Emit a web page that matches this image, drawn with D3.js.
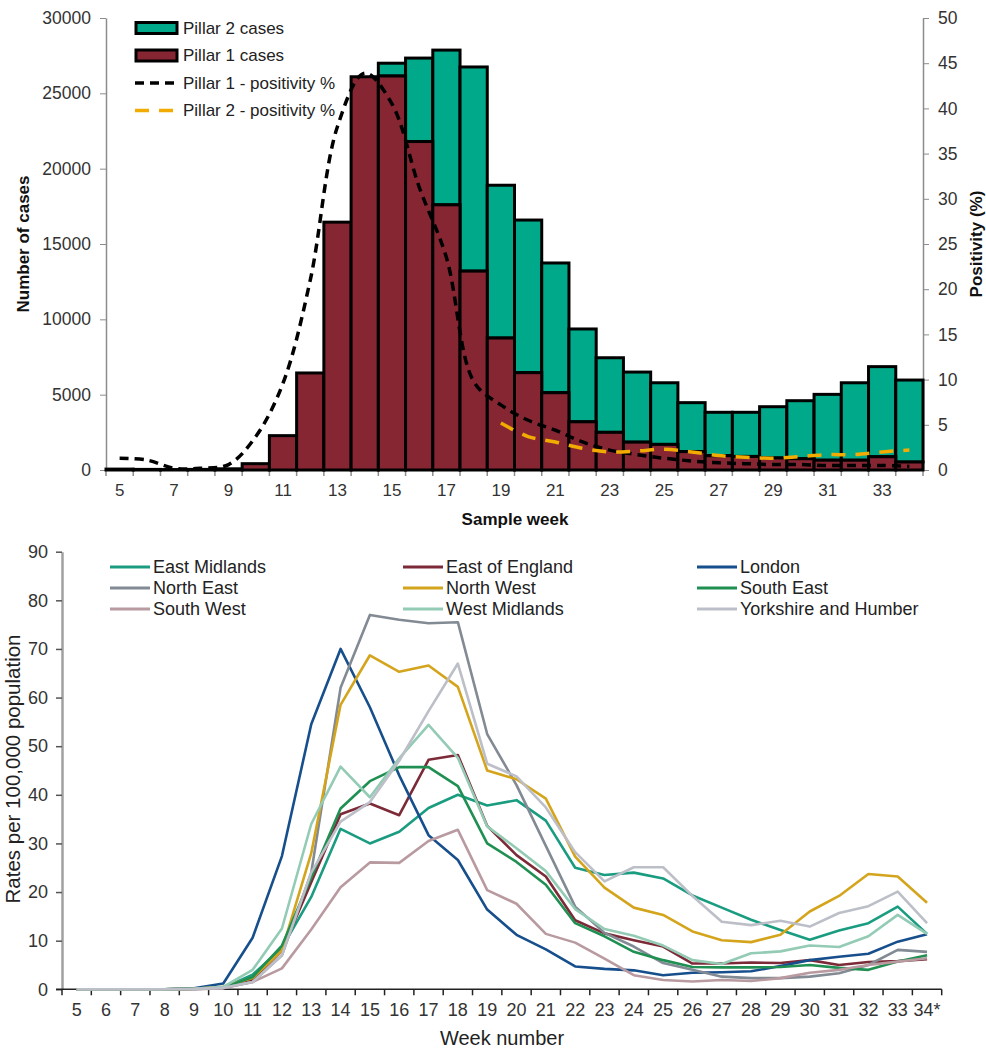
<!DOCTYPE html>
<html>
<head>
<meta charset="utf-8">
<script src="https://cdn.jsdelivr.net/npm/d3@7"></script>
<style>
  body { margin: 0; background: #fff; }
  svg { display: block; font-family: "Liberation Sans", Arial, sans-serif; }
  .axis text { fill: #333; }
</style>
</head>
<body>
<svg id="chart" width="986" height="1048"></svg>
<script>
// ---- top chart data ----
const sampleWeeks = d3.range(5, 35);
const pillar1Cases = [60, 40, 30, 40, 80, 420, 2280, 6440, 16450, 26100, 26150, 21800, 17600, 13200,
  8760, 6460, 5130, 3200, 2500, 1850, 1700, 1220, 950, 900, 800, 750, 650, 650, 880, 530];
const pillar2Cases = [0, 0, 0, 0, 0, 0, 0, 0, 0, 0, 850, 5540, 10270, 13550,
  10140, 10130, 8610, 6160, 4950, 4650, 4090, 3250, 2880, 2930, 3400, 3850, 4370, 5140, 5980, 5440];
const pillar1Positivity = [1.3, 1.1, 0.2, 0.2, 0.6, 3.7, 9.6, 21, 38, 43.9, 40.5, 31.3, 23.5, 9.8,
  7.2, 5.5, 4.4, 3.1, 2.2, 1.7, 1.3, 1.0, 0.8, 0.7, 0.6, 0.6, 0.5, 0.5, 0.5, 0.4];
const pillar2Positivity = [null, null, null, null, null, null, null, null, null, null, null, null, null, null,
  5.2, 3.7, 3.1, 2.4, 2.0, 2.1, 2.3, 2.0, 1.6, 1.4, 1.3, 1.5, 1.7, 1.7, 2.0, 2.2];
const sampleWeekLabels = d3.range(5, 35, 2);
const caseTicks = d3.range(0, 30001, 5000);
const positivityTicks = d3.range(0, 51, 5);

// ---- bottom chart data ----
const weekNumbers = d3.range(5, 35);
const weekLabels = weekNumbers.map(w => w === 34 ? "34*" : String(w));
const regions = ["East Midlands", "East of England", "London", "North East", "North West",
  "South East", "South West", "West Midlands", "Yorkshire and Humber"];
const regionColors = ["#1a9c80", "#7d2a38", "#174f8c", "#828a94", "#d4a51c",
  "#1f8f52", "#b89aa0", "#93cbb5", "#bcbfc8"];
const eastMidlands = [0, 0, 0, 0, 0.1, 0.3, 3, 8.5, 19, 33, 30, 32.4, 37.3, 40, 37.8, 38.9, 34.7,
  25, 23.5, 24, 22.8, 19.3, 16.8, 14.3, 12.2, 10.2, 12.1, 13.6, 17, 11.4];
const eastOfEngland = [0, 0, 0, 0, 0.1, 0.3, 2, 8, 22, 36, 38.2, 35.8, 47.2, 48.2, 33.6, 27.6, 23.2,
  14.2, 11.5, 10.1, 8.8, 5.3, 5.3, 5.5, 5.4, 6, 5, 5.6, 5.8, 6.2];
const london = [0, 0, 0, 0, 0.2, 1.2, 10.6, 27.4, 54.5, 70, 58, 44, 31.7, 26.6, 16.4, 11.2, 8.2,
  4.7, 4.2, 3.9, 2.9, 3.4, 3.5, 3.7, 4.8, 6, 6.7, 7.3, 9.8, 11.3];
const northEast = [0, 0, 0, 0, 0, 0.3, 1.5, 7, 24, 62, 77, 76, 75.3, 75.5, 52.5, 42, 29.5,
  17, 11.6, 8.8, 5.4, 4, 2.6, 2.3, 2.3, 2.6, 3.3, 5, 8.1, 7.7];
const northWest = [0, 0, 0, 0, 0.1, 0.5, 2.3, 8, 28, 58.5, 68.7, 65.3, 66.6, 62.2, 45, 43.2, 39.2,
  27.3, 20.9, 16.8, 15.3, 11.9, 10.1, 9.7, 11.2, 16, 19.2, 23.7, 23.2, 17.8];
const southEast = [0, 0, 0, 0, 0.1, 0.3, 2.5, 9, 23, 37.2, 42.8, 45.7, 45.7, 41.8, 30, 26.2, 21.5,
  13.6, 10.9, 7.7, 6, 4.6, 4.5, 4.5, 4.6, 5, 4.4, 4, 5.7, 7];
const southWest = [0, 0, 0, 0, 0, 0.2, 1.5, 4.3, 12.3, 21, 26.1, 26, 30.5, 32.8, 20.4, 17.6, 11.4,
  9.6, 6.3, 2.9, 1.9, 1.6, 1.9, 1.7, 2.3, 3.4, 4, 5, 5.7, 6.4];
const westMidlands = [0, 0, 0, 0, 0.1, 0.5, 4, 12.5, 34, 45.8, 39.5, 47.5, 54.4, 47.6, 33.5, 29, 24.3,
  16.5, 12.4, 11, 9, 6, 5.2, 7.4, 7.8, 9, 8.7, 10.9, 15.3, 11.4];
const yorkshire = [0, 0, 0, 0, 0.1, 0.3, 1.5, 7, 24, 34.5, 38.5, 47, 57.2, 67, 46.4, 43.8, 37.4,
  28.2, 22.2, 25.1, 25.1, 19.2, 13.9, 13.2, 14.1, 12.9, 15.7, 17.1, 20.1, 13.6];
const regionValues = [eastMidlands, eastOfEngland, london, northEast, northWest,
  southEast, southWest, westMidlands, yorkshire];
const rateTicks = d3.range(0, 91, 10);

const svg = d3.select("#chart");

// ================= top chart =================
const topBox = { left: 106, right: 923, top: 18, bottom: 470 };
const xTop = d3.scaleBand().domain(sampleWeeks).range([topBox.left, topBox.right]).paddingInner(0);
const yCases = d3.scaleLinear().domain([0, 30000]).range([topBox.bottom, topBox.top]);
const yPos = d3.scaleLinear().domain([0, 50]).range([topBox.bottom, topBox.top]);

const gTop = svg.append("g");

// left axis
const leftAxis = gTop.append("g")
  .attr("class", "axis")
  .attr("transform", `translate(${topBox.left},0)`)
  .call(d3.axisLeft(yCases).tickValues(caseTicks).tickFormat(d3.format("d"))
    .tickSize(6).tickPadding(9).tickSizeOuter(0));
leftAxis.selectAll("text").style("font-size", "17.5px");

// right axis
const rightAxis = gTop.append("g")
  .attr("class", "axis")
  .attr("transform", `translate(${topBox.right},0)`)
  .call(d3.axisRight(yPos).tickValues(positivityTicks).tickSize(6).tickPadding(9).tickSizeOuter(0));
rightAxis.selectAll("text").style("font-size", "17.5px");

[leftAxis, rightAxis].forEach(a => {
  a.select(".domain").attr("stroke", "#8c8c8c").attr("stroke-width", 1.5);
  a.selectAll(".tick line").attr("stroke", "#8c8c8c");
});

// bottom axis labels
const bottomAxis = gTop.append("g")
  .attr("class", "axis")
  .attr("transform", `translate(0,${topBox.bottom})`)
  .call(d3.axisBottom(xTop).tickValues(sampleWeekLabels).tickSize(0).tickPadding(14));
bottomAxis.select(".domain").remove();
bottomAxis.selectAll("text").style("font-size", "17px");

gTop.append("line")
  .attr("x1", topBox.left).attr("x2", topBox.right)
  .attr("y1", topBox.bottom).attr("y2", topBox.bottom)
  .attr("stroke", "#8c8c8c").attr("stroke-width", 1.5);
gTop.selectAll(".xtick")
  .data(sampleWeeks.map(w => xTop(w)).concat([topBox.right]))
  .join("line")
  .attr("x1", d => d).attr("x2", d => d)
  .attr("y1", topBox.bottom).attr("y2", topBox.bottom + 6)
  .attr("stroke", "#8c8c8c").attr("stroke-width", 1.5);

// stacked bars
const barData = sampleWeeks.map((w, i) => ({ week: w, p1: pillar1Cases[i], p2: pillar2Cases[i] }));
const stack = d3.stack().keys(["p1", "p2"])(barData);
const barColors = { p1: "#862633", p2: "#00a98a" };

gTop.append("g").selectAll("rect")
  .data(stack[1].filter(d => d.data.p2 > 0))
  .join("rect")
  .attr("x", d => xTop(d.data.week))
  .attr("width", xTop.bandwidth())
  .attr("y", d => yCases(d[1]))
  .attr("height", d => yCases(d[0]) - yCases(d[1]))
  .attr("fill", barColors.p2)
  .attr("stroke", "#000").attr("stroke-width", 3);

gTop.append("g").selectAll("rect")
  .data(stack[0])
  .join("rect")
  .attr("x", d => xTop(d.data.week))
  .attr("width", xTop.bandwidth())
  .attr("y", d => yCases(d[1]))
  .attr("height", d => yCases(d[0]) - yCases(d[1]))
  .attr("fill", barColors.p1)
  .attr("stroke", "#000").attr("stroke-width", 3);

// positivity lines
const posLine = d3.line()
  .defined(d => d.v != null)
  .x(d => xTop(d.week) + xTop.bandwidth() / 2)
  .y(d => yPos(d.v))
  .curve(d3.curveCatmullRom.alpha(0.5));

gTop.append("path")
  .datum(sampleWeeks.map((w, i) => ({ week: w, v: pillar1Positivity[i] })))
  .attr("d", posLine)
  .attr("fill", "none")
  .attr("stroke", "#000").attr("stroke-width", 3.5)
  .attr("stroke-dasharray", "9,6");

gTop.append("path")
  .datum(sampleWeeks.map((w, i) => ({ week: w, v: pillar2Positivity[i] })).filter(d => d.v != null))
  .attr("d", posLine)
  .attr("fill", "none")
  .attr("stroke", "#f2ab00").attr("stroke-width", 3.5)
  .attr("stroke-dasharray", "14,10");

// axis titles
gTop.append("text")
  .attr("transform", "translate(29,244) rotate(-90)")
  .attr("text-anchor", "middle")
  .style("font-size", "17px").style("font-weight", "bold").attr("fill", "#111")
  .text("Number of cases");
gTop.append("text")
  .attr("transform", "translate(982,244) rotate(-90)")
  .attr("text-anchor", "middle")
  .style("font-size", "17px").style("font-weight", "bold").attr("fill", "#111")
  .text("Positivity (%)");
gTop.append("text")
  .attr("x", 515).attr("y", 525)
  .attr("text-anchor", "middle")
  .style("font-size", "17px").style("font-weight", "bold").attr("fill", "#111")
  .text("Sample week");

// legend
const topLegend = [
  { label: "Pillar 2 cases", type: "rect", color: barColors.p2 },
  { label: "Pillar 1 cases", type: "rect", color: barColors.p1 },
  { label: "Pillar 1 - positivity %", type: "line", color: "#000", dash: "9,6" },
  { label: "Pillar 2 - positivity %", type: "line", color: "#f2ab00", dash: "14,10" }
];
const lg = gTop.append("g").attr("transform", "translate(135,28)");
topLegend.forEach((d, i) => {
  const row = lg.append("g").attr("transform", `translate(0,${i * 27.5})`);
  if (d.type === "rect") {
    row.append("rect").attr("x", 1).attr("y", -5.5).attr("width", 41).attr("height", 11)
      .attr("fill", d.color).attr("stroke", "#000").attr("stroke-width", 3);
  } else {
    row.append("line").attr("x1", 0).attr("x2", 43).attr("y1", 0).attr("y2", 0)
      .attr("stroke", d.color).attr("stroke-width", 3.5).attr("stroke-dasharray", d.dash);
  }
  row.append("text").attr("x", 48).attr("y", 0).attr("dy", "0.35em")
    .style("font-size", "17px").attr("fill", "#222").text(d.label);
});

// ================= bottom chart =================
const botBox = { left: 62, right: 941.7, top: 551.7, bottom: 989.3 };
const xBot = d3.scaleBand().domain(weekNumbers).range([botBox.left, botBox.right]).paddingInner(0);
const yRate = d3.scaleLinear().domain([0, 90]).range([botBox.bottom, botBox.top]);
const gBot = svg.append("g");

const yAxisB = gBot.append("g")
  .attr("class", "axis")
  .attr("transform", `translate(${botBox.left},0)`)
  .call(d3.axisLeft(yRate).tickValues(rateTicks).tickSize(6).tickPadding(8).tickSizeOuter(0));
yAxisB.select(".domain").attr("stroke", "#a0a0a0").attr("stroke-width", 2.5);
yAxisB.selectAll(".tick line").attr("stroke", "#555").attr("stroke-width", 1.5);
yAxisB.selectAll("text").style("font-size", "18px");

const xAxisB = gBot.append("g")
  .attr("class", "axis")
  .attr("transform", `translate(0,${botBox.bottom})`)
  .call(d3.axisBottom(xBot).tickFormat((d, i) => weekLabels[i]).tickSize(0).tickPadding(14));
xAxisB.select(".domain").remove();
xAxisB.selectAll("text").style("font-size", "18px");

gBot.append("line")
  .attr("x1", botBox.left - 6).attr("x2", botBox.right)
  .attr("y1", botBox.bottom).attr("y2", botBox.bottom)
  .attr("stroke", "#222").attr("stroke-width", 1.5);
gBot.selectAll(".xtickb")
  .data(weekNumbers.map(w => xBot(w)).concat([botBox.right]))
  .join("line")
  .attr("x1", d => d).attr("x2", d => d)
  .attr("y1", botBox.bottom).attr("y2", botBox.bottom + 6)
  .attr("stroke", "#222").attr("stroke-width", 1.5);

const rateLine = d3.line()
  .x(d => xBot(d.week) + xBot.bandwidth() / 2)
  .y(d => yRate(d.v));

regions.forEach((r, k) => {
  gBot.append("path")
    .datum(weekNumbers.map((w, i) => ({ week: w, v: regionValues[k][i] })))
    .attr("d", rateLine)
    .attr("fill", "none")
    .attr("stroke", regionColors[k])
    .attr("stroke-width", 2.6)
    .attr("stroke-linejoin", "round");
});

gBot.append("text")
  .attr("x", 502).attr("y", 1045)
  .attr("text-anchor", "middle")
  .style("font-size", "20px").attr("fill", "#222")
  .text("Week number");
gBot.append("text")
  .attr("transform", "translate(20,769) rotate(-90)")
  .attr("text-anchor", "middle")
  .style("font-size", "20.5px").attr("fill", "#222")
  .text("Rates per 100,000 population");

const colX = [110, 403, 697];
const rowY = [567, 588, 609];
regions.forEach((r, k) => {
  const cx = colX[k % 3], cy = rowY[Math.floor(k / 3)];
  gBot.append("line")
    .attr("x1", cx).attr("x2", cx + 40).attr("y1", cy).attr("y2", cy)
    .attr("stroke", regionColors[k]).attr("stroke-width", 3);
  gBot.append("text")
    .attr("x", cx + 43).attr("y", cy).attr("dy", "0.35em")
    .style("font-size", "18px").attr("fill", "#222")
    .text(r);
});
</script>
</body>
</html>
